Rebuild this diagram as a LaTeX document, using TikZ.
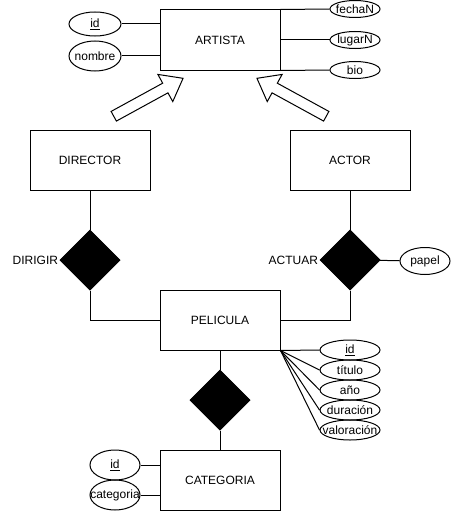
\documentclass[tikz,border=0pt]{standalone}
\usepackage{fontspec}
\setmainfont{Liberation Sans}
\usetikzlibrary{shapes.geometric,shapes.arrows}

\begin{document}
\begin{tikzpicture}[x=1pt,y=-1pt,line width=1pt,font=\fontsize{12}{14}\selectfont,
entity/.style={rectangle,draw,minimum width=120pt,minimum height=60pt,inner sep=0pt},
rel/.style={diamond,draw,fill=black,minimum width=60pt,minimum height=60pt,inner sep=0pt},
attr/.style={ellipse,draw,inner sep=0pt,minimum width=50pt,minimum height=#1},
attr/.default=17pt,
isa/.style={single arrow,draw,fill=white,minimum height=79pt,inner xsep=0pt,inner ysep=5pt,
  text height=0pt,text depth=0pt,single arrow head extend=10pt,single arrow tip angle=75,
  single arrow head indent=0pt}]
\useasboundingbox (0,0) rectangle (451,511);
\node[entity] (artista) at (220,40) {ARTISTA};
\node[entity] (director) at (90,160) {DIRECTOR};
\node[entity] (actor) at (350,160) {ACTOR};
\node[entity] (pelicula) at (220,320) {PELICULA};
\node[entity] (categoria) at (220,480) {CATEGORIA};
\node[rel] (dirigir) at (90,260) {};
\node[rel] (actuar) at (350,260) {};
\node[rel] (pertenecer) at (220,400) {};
\node[anchor=east,inner sep=1pt] at (dirigir.west) {DIRIGIR};
\node[anchor=east,inner sep=1pt] at (actuar.west) {ACTUAR};
\node[isa,rotate=28.7] (isaDir) at (145.25,99) {};
\node[isa,rotate=151.3] (isaAct) at (294.75,99) {};
% atributos de ARTISTA
\node[attr=24pt,minimum width=52pt] (artId) at (95,24) {\underline{id}};
\node[attr=30pt,minimum width=52pt] (artNombre) at (95,56) {\makebox[0pt]{nombre}};
\node[attr] (fechaN) at (355,9) {\makebox[0pt]{fechaN}};
\node[attr] (lugarN) at (355,40) {\makebox[0pt]{lugarN}};
\node[attr] (bio) at (355,70) {bio};
\node[attr=27pt] (papel) at (425,261) {papel};
% atributos de PELICULA
\node[attr=20pt,minimum width=60pt] (pelId) at (350,350) {\underline{id}};
\node[attr=20pt,minimum width=60pt] (titulo) at (350,370) {\makebox[0pt]{título}};
\node[attr=20pt,minimum width=60pt] (anio) at (350,390) {\makebox[0pt]{año}};
\node[attr=20pt,minimum width=60pt] (duracion) at (350,410) {\makebox[0pt]{duración}};
\node[attr=20pt,minimum width=60pt] (valoracion) at (350,430) {\makebox[0pt]{valoración}};
% atributos de CATEGORIA
\node[attr=30pt] (catId) at (115,465) {\underline{id}};
\node[attr=30pt] (catNombre) at (115,495) {\makebox[0pt]{categoria}};

\draw (artId.east) -- (artId.east -| artista.west);
\draw (artNombre.east) -- (artNombre.east -| artista.west);
\draw (artista.north east) -- (fechaN.west);
\draw (artista.east) -- (lugarN.west);
\draw (artista.south east) -- (bio.west);
\draw (director) -- (dirigir);
\draw (dirigir.south) |- (pelicula.west);
\draw (actor) -- (actuar);
\draw (actuar.south) |- (pelicula.east);
\draw (actuar) -- (papel);
\draw (pelicula) -- (pertenecer);
\draw (pertenecer) -- (categoria);
\foreach \a in {pelId,titulo,anio,duracion,valoracion}
  \draw (pelicula.south east) -- (\a.west);
\draw (catId.east) -- (catId.east -| categoria.west);
\draw (catNombre.east) -- (catNombre.east -| categoria.west);
\end{tikzpicture}
\end{document}
